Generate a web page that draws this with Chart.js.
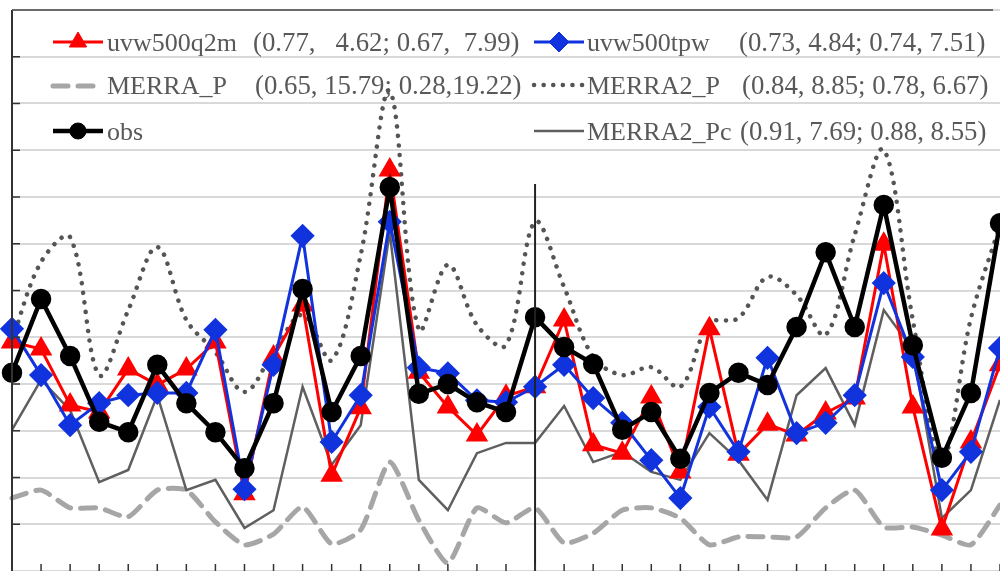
<!DOCTYPE html>
<html>
<head>
<meta charset="utf-8">
<script src="https://cdn.jsdelivr.net/npm/chart.js@4.4.0/dist/chart.umd.min.js"></script>
<style>
  html, body { margin: 0; padding: 0; background: #fff; overflow: hidden; }
  #wrap { width: 1000px; height: 571px; }
  canvas { display: block; }
</style>
</head>
<body>
<div id="wrap"><canvas id="chart" width="1000" height="571"></canvas></div>
<script>
// x categories (no tick labels are visible in the figure)
const categories = ["1", "2", "3", "4", "5", "6", "7", "8", "9", "10",
  "11", "12", "13", "14", "15", "16", "17", "18", "19", "20",
  "21", "22", "23", "24", "25", "26", "27", "28", "29", "30",
  "31", "32", "33", "34", "35"];

const obs = [4.24, 5.82, 4.60, 3.19, 2.97, 4.41, 3.59, 2.97, 2.20, 3.59,
  6.03, 3.40, 4.60, 8.21, 3.79, 4.00, 3.61, 3.40, 5.43, 4.79,
  4.43, 3.02, 3.40, 2.40, 3.81, 4.24, 3.98, 5.22, 6.82, 5.22,
  7.83, 4.83, 2.42, 3.81, 7.44];

const uvw500q2m = [4.90, 4.75, 3.55, 3.40, 4.32, 3.98, 4.32, 4.90, 1.65, 4.58,
  5.69, 2.05, 3.49, 8.58, 4.25, 3.51, 2.91, 3.74, 3.94, 5.37,
  2.70, 2.52, 3.72, 2.12, 5.18, 2.50, 3.14, 2.91, 3.38, 3.70,
  6.99, 3.51, 0.90, 2.76, 4.41];

const uvw500tpw = [5.18, 4.19, 3.12, 3.59, 3.76, 3.81, 3.81, 5.16, 1.75, 4.41,
  7.17, 2.76, 3.76, 7.47, 4.35, 4.23, 3.65, 3.61, 3.94, 4.41,
  3.70, 3.17, 2.37, 1.56, 3.51, 2.55, 4.56, 2.95, 3.17, 3.76,
  6.16, 4.58, 1.73, 2.55, 4.77];

const merraP = [1.56, 1.73, 1.35, 1.35, 1.16, 1.73, 1.73, 1.05, 0.56, 0.79,
  1.37, 0.58, 0.88, 2.33, 1.09, 0.17, 1.35, 1.03, 1.35, 0.60,
  0.81, 1.30, 1.35, 1.13, 0.56, 0.73, 0.73, 0.73, 1.35, 1.73,
  0.94, 0.94, 0.77, 0.56, 1.41];

const merra2P = [4.94, 6.61, 7.14, 4.19, 5.58, 6.93, 5.37, 4.68, 3.83, 4.68,
  5.48, 4.51, 6.76, 10.27, 5.16, 6.55, 5.26, 4.83, 7.47, 6.07,
  4.58, 4.19, 4.36, 3.94, 5.30, 5.41, 6.29, 5.90, 5.05, 7.19,
  9.01, 5.37, 2.37, 5.41, 7.40];

const merra2Pc = [3.02, 4.09, 3.44, 1.90, 2.16, 3.76, 1.73, 1.95, 0.92, 1.30,
  3.94, 2.27, 3.12, 7.25, 1.95, 1.30, 2.52, 2.74, 2.74, 3.53,
  2.33, 2.55, 2.12, 1.95, 2.95, 2.37, 1.52, 3.76, 4.34, 3.12,
  5.58, 4.73, 1.13, 1.73, 3.66];

// legend texts: name + (r, rmse; r, rmse)
const seriesNames = ["uvw500q2m", "uvw500tpw", "MERRA_P", "MERRA2_P", "obs", "MERRA2_Pc"];
const seriesStats = [
  "(0.77,   4.62; 0.67,  7.99)",
  "(0.73, 4.84; 0.74, 7.51)",
  "(0.65, 15.79; 0.28,19.22)",
  "(0.84, 8.85; 0.78, 6.67)",
  "",
  "(0.91, 7.69; 0.88, 8.55)"
];

// vertical separator between the two periods
const separatorIndex = 18;
const separatorTop = 8.28;

const yMin = 0, yMax = 12;

const FONT = "'Liberation Serif', 'Times New Roman', serif";

// custom two-column legend, axis frame, separator, bottom tick marks
const framePlugin = {
  id: "frame",
  afterDatasetsDraw(chart) {
    const ctx = chart.ctx;
    const area = chart.chartArea;
    const xs = chart.scales.x;
    const ys = chart.scales.y;
    ctx.save();

    // separator
    const sx = xs.getPixelForValue(separatorIndex);
    ctx.strokeStyle = "#222";
    ctx.lineWidth = 2;
    ctx.beginPath();
    ctx.moveTo(sx, ys.getPixelForValue(separatorTop));
    ctx.lineTo(sx, area.bottom);
    ctx.stroke();

    // left axis + top border
    ctx.strokeStyle = "#333";
    ctx.lineWidth = 2;
    ctx.beginPath();
    ctx.moveTo(area.left, area.bottom);
    ctx.lineTo(area.left, area.top);
    ctx.stroke();
    ctx.lineWidth = 1.5;
    ctx.strokeStyle = "#444";
    ctx.beginPath();
    ctx.moveTo(area.left, area.top);
    ctx.lineTo(993, area.top);
    ctx.stroke();

    // y tick marks
    ctx.lineWidth = 1.5;
    ctx.strokeStyle = "#333";
    for (let v = yMin + 1; v < yMax; v++) {
      const py = ys.getPixelForValue(v);
      ctx.beginPath();
      ctx.moveTo(area.left, py);
      ctx.lineTo(area.left + 8, py);
      ctx.stroke();
    }
    // x tick marks
    for (let i = 1; i < categories.length; i++) {
      const px = xs.getPixelForValue(i);
      ctx.beginPath();
      ctx.moveTo(px, area.bottom - 7);
      ctx.lineTo(px, area.bottom);
      ctx.stroke();
    }

    // legend
    const slots = [
      { name: "uvw500q2m", x: 53, y: 42, base: 51, tx: 107, sx: 253 },
      { name: "uvw500tpw", x: 534, y: 42, base: 51, tx: 587, sx: 739 },
      { name: "MERRA_P", x: 53, y: 86, base: 94, tx: 107, sx: 255 },
      { name: "MERRA2_P", x: 534, y: 85, base: 94, tx: 587, sx: 742 },
      { name: "obs", x: 53, y: 131, base: 140, tx: 107, sx: 0 },
      { name: "MERRA2_Pc", x: 534, y: 131, base: 140, tx: 587, sx: 740 }
    ];
    ctx.textBaseline = "alphabetic";
    ctx.fillStyle = "#595959";
    slots.forEach(s => {
      const k = seriesNames.indexOf(s.name);
      const ds = chart.data.datasets.find(d => d.label.startsWith(s.name + " ") || d.label === s.name);
      ctx.save();
      ctx.strokeStyle = ds.borderColor;
      ctx.lineWidth = ds.borderWidth;
      ctx.lineCap = ds.borderCapStyle || "butt";
      ctx.setLineDash(ds.borderDash || []);
      ctx.beginPath();
      ctx.moveTo(s.x, s.y);
      ctx.lineTo(s.x + 50, s.y);
      ctx.stroke();
      ctx.setLineDash([]);
      if (ds.pointRadius > 0) {
        ctx.fillStyle = ds.pointBackgroundColor;
        ctx.strokeStyle = ds.pointBorderColor;
        ctx.lineWidth = 1;
        Chart.helpers.drawPoint(ctx, { pointStyle: ds.pointStyle, radius: ds.pointRadius, borderWidth: 1, rotation: 0 }, s.x + 25, s.y);
      }
      ctx.restore();
      ctx.font = "26px " + FONT;
      ctx.fillText(seriesNames[k], s.tx, s.base);
      ctx.font = "26.8px " + FONT;
      if (seriesStats[k]) ctx.fillText(seriesStats[k], s.sx, s.base);
    });
    ctx.restore();
  }
};

function label(i) {
  return seriesStats[i] ? seriesNames[i] + " " + seriesStats[i] : seriesNames[i];
}

new Chart(document.getElementById("chart"), {
  type: "line",
  data: {
    labels: categories,
    datasets: [
      {
        label: label(4), data: obs,
        borderColor: "#000", borderWidth: 4.5,
        pointStyle: "circle", pointRadius: 8,
        pointBackgroundColor: "#000", pointBorderColor: "#000",
        tension: 0, clip: false
      },
      {
        label: label(1), data: uvw500tpw,
        borderColor: "#1133dd", borderWidth: 3,
        pointStyle: "rectRot", pointRadius: 10,
        pointBackgroundColor: "#1133dd", pointBorderColor: "#1133dd",
        tension: 0, clip: false
      },
      {
        label: label(0), data: uvw500q2m,
        borderColor: "#ff0000", borderWidth: 3,
        pointStyle: "triangle", pointRadius: 10,
        pointBackgroundColor: "#ff0000", pointBorderColor: "#ff0000",
        tension: 0, clip: false
      },
      {
        label: label(5), data: merra2Pc,
        borderColor: "#5f5f5f", borderWidth: 2.5,
        pointRadius: 0, tension: 0, clip: false
      },
      {
        label: label(3), data: merra2P,
        borderColor: "#555555", borderWidth: 4.5,
        borderDash: [0.1, 9.5], borderCapStyle: "round",
        pointRadius: 0, tension: 0.35, clip: false
      },
      {
        label: label(2), data: merraP,
        borderColor: "#a6a6a6", borderWidth: 5,
        borderDash: [15, 10], borderCapStyle: "round",
        pointRadius: 0, tension: 0.2, clip: false
      }
    ]
  },
  options: {
    responsive: false,
    animation: false,
    devicePixelRatio: 1,
    layout: { autoPadding: false, padding: { left: 12, top: 10, right: 0, bottom: 0 } },
    plugins: { legend: { display: false }, tooltip: { enabled: false } },
    scales: {
      x: { display: false, offset: false },
      y: {
        min: yMin, max: yMax,
        ticks: { display: false, stepSize: 1 },
        grid: { color: "#d9d9d9", lineWidth: 2, drawTicks: false },
        border: { display: false }
      }
    }
  },
  plugins: [framePlugin]
});
</script>
</body>
</html>
